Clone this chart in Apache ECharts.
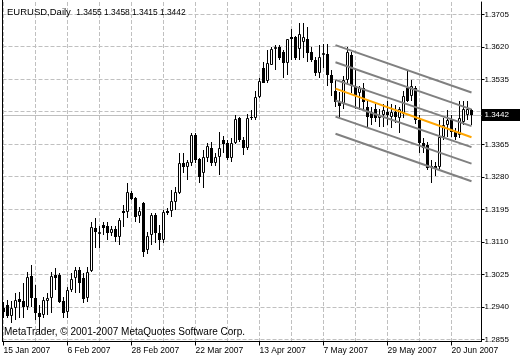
<!DOCTYPE html>
<html><head><meta charset="utf-8">
<script src="https://cdn.jsdelivr.net/npm/echarts@6/dist/echarts.min.js"></script>
<style>html,body{margin:0;padding:0;background:#fff}#c{width:520px;height:360px}</style>
</head><body><div id="c"></div>
<script>
// ---- data ----
const opens = [1.2937,1.2945,1.2916,1.2937,1.2960,1.2955,1.2939,1.3020,1.2963,1.2924,
1.2918,1.2955,1.2963,1.3023,1.3023,1.2955,1.2926,1.2984,1.3015,1.3036,
1.3015,1.2963,1.3033,1.3146,1.3130,1.3154,1.3151,1.3133,1.3143,1.3122,
1.3190,1.3188,1.3237,1.3224,1.3177,1.3211,1.3088,1.3128,1.3180,1.3133,
1.3114,1.3190,1.3190,1.3214,1.3237,1.3316,1.3305,1.3316,1.3391,1.3326,
1.3290,1.3329,1.3357,1.3316,1.3331,1.3376,1.3368,1.3329,1.3368,1.3433,
1.3376,1.3355,1.3438,1.3433,1.3488,1.3564,1.3530,1.3574,1.3614,1.3619,
1.3606,1.3577,1.3645,1.3645,1.3616,1.3634,1.3642,1.3608,1.3585,1.3551,
1.3598,1.3601,1.3546,1.3506,1.3475,1.3470,1.3533,1.3598,1.3519,1.3499,
1.3512,1.3462,1.3449,1.3459,1.3433,1.3441,1.3449,1.3436,1.3449,1.3433,
1.3446,1.3512,1.3491,1.3512,1.3428,1.3368,1.3363,1.3308,1.3310,1.3305,
1.3384,1.3415,1.3428,1.3397,1.3389,1.3423,1.3441,1.3455];
const closes = [1.2926,1.2916,1.2937,1.2958,1.2952,1.2939,1.3018,1.2963,1.2924,1.2913,
1.2958,1.2963,1.3020,1.3015,1.2952,1.2924,1.2984,1.3013,1.3036,1.3002,
1.2960,1.3031,1.3148,1.3135,1.3135,1.3146,1.3133,1.3143,1.3122,1.3167,
1.3185,1.3240,1.3222,1.3175,1.3190,1.3083,1.3125,1.3180,1.3133,1.3114,
1.3188,1.3185,1.3216,1.3240,1.3316,1.3305,1.3318,1.3389,1.3324,1.3279,
1.3331,1.3360,1.3316,1.3331,1.3355,1.3365,1.3329,1.3368,1.3431,1.3376,
1.3357,1.3433,1.3433,1.3488,1.3530,1.3527,1.3577,1.3614,1.3619,1.3590,
1.3577,1.3640,1.3640,1.3590,1.3653,1.3645,1.3603,1.3585,1.3551,1.3593,
1.3603,1.3546,1.3525,1.3475,1.3465,1.3533,1.3606,1.3519,1.3493,1.3512,
1.3475,1.3436,1.3433,1.3433,1.3441,1.3454,1.3441,1.3449,1.3436,1.3459,
1.3493,1.3480,1.3517,1.3428,1.3368,1.3357,1.3303,1.3303,1.3303,1.3384,
1.3415,1.3428,1.3397,1.3384,1.3433,1.3459,1.3459,1.3442];
const highs = [1.2952,1.2958,1.2955,1.2976,1.2979,1.3002,1.3031,1.3049,1.2997,1.2945,
1.2966,1.2976,1.3031,1.3041,1.3028,1.2966,1.2992,1.3028,1.3044,1.3044,
1.3028,1.3044,1.3162,1.3172,1.3151,1.3162,1.3162,1.3151,1.3151,1.3172,
1.3206,1.3263,1.3243,1.3227,1.3201,1.3214,1.3135,1.3185,1.3185,1.3154,
1.3193,1.3198,1.3245,1.3253,1.3342,1.3342,1.3324,1.3394,1.3394,1.3329,
1.3350,1.3368,1.3371,1.3342,1.3397,1.3386,1.3376,1.3381,1.3441,1.3438,
1.3384,1.3446,1.3454,1.3506,1.3540,1.3580,1.3611,1.3619,1.3624,1.3624,
1.3611,1.3642,1.3668,1.3650,1.3682,1.3682,1.3671,1.3619,1.3595,1.3624,
1.3629,1.3629,1.3559,1.3533,1.3501,1.3543,1.3619,1.3608,1.3564,1.3519,
1.3525,1.3480,1.3462,1.3472,1.3459,1.3472,1.3480,1.3472,1.3467,1.3462,
1.3506,1.3559,1.3533,1.3517,1.3441,1.3381,1.3371,1.3324,1.3318,1.3428,
1.3433,1.3454,1.3441,1.3407,1.3480,1.3480,1.3480,1.3458];
const lows = [1.2911,1.2911,1.2898,1.2905,1.2911,1.2911,1.2932,1.2939,1.2905,1.2871,
1.2911,1.2918,1.2924,1.2984,1.2950,1.2911,1.2911,1.2979,1.2976,1.2976,
1.2950,1.2952,1.3031,1.3094,1.3094,1.3128,1.3114,1.3125,1.3109,1.3101,
1.3148,1.3172,1.3219,1.3162,1.3159,1.3070,1.3078,1.3101,1.3107,1.3088,
1.3107,1.3180,1.3175,1.3193,1.3235,1.3290,1.3271,1.3310,1.3316,1.3263,
1.3250,1.3318,1.3310,1.3310,1.3284,1.3342,1.3324,1.3318,1.3365,1.3371,
1.3337,1.3350,1.3428,1.3428,1.3486,1.3525,1.3527,1.3572,1.3559,1.3585,
1.3540,1.3546,1.3585,1.3585,1.3585,1.3590,1.3580,1.3580,1.3543,1.3538,
1.3564,1.3519,1.3493,1.3462,1.3433,1.3459,1.3522,1.3499,1.3459,1.3454,
1.3454,1.3410,1.3415,1.3423,1.3410,1.3410,1.3415,1.3407,1.3420,1.3394,
1.3433,1.3475,1.3480,1.3418,1.3344,1.3342,1.3297,1.3263,1.3282,1.3297,
1.3376,1.3384,1.3384,1.3376,1.3381,1.3415,1.3428,1.3415];

const dateLabels = ['15 Jan 2007','6 Feb 2007','28 Feb 2007','22 Mar 2007','13 Apr 2007','7 May 2007','29 May 2007','20 Jun 2007'];
const priceTicks = [1.2855,1.2940,1.3025,1.3110,1.3195,1.3280,1.3365,1.3450,1.3535,1.3620,1.3705];
const priceLabels = [1.2855,1.2940,1.3025,1.3110,1.3195,1.3280,1.3365,1.3535,1.3620,1.3705];
const gridBars = [0,8,16,24,32,40,48,56,64,72,80,88,96,104,112];

const channelBars = [83, 117];
const channelGray = [[1.3625,1.3501],[1.3580,1.3457],[1.3534,1.3413],[1.3480,1.3358],[1.3438,1.3315],[1.3393,1.3269]];
const channelMid = [1.3511,1.3384];
const lastPrice = 1.3442;

const symbolName = 'EURUSD,Daily';
const lastOHLC = ['1.3455','1.3458','1.3415','1.3442'];
const footerText = 'MetaTrader, \u00A9 2001-2007 MetaQuotes Software Corp.';
const slotCount = 120;

// ---- build ----
const cats = [];
for (let i = 0; i < slotCount; i++) cats.push(String(i));
const candleData = opens.map((o, i) => [i, o, closes[i], lows[i], highs[i]]);
const GRID_COLOR = '#c0c0c0';
const DASH = [4, 2];

function renderCandle(params, api) {
  const i = api.value(0);
  const o = api.value(1), c = api.value(2), lo = api.value(3), hi = api.value(4);
  const pO = api.coord([i, o]), pC = api.coord([i, c]);
  const pL = api.coord([i, lo]), pH = api.coord([i, hi]);
  const col = Math.floor(pO[0]);
  const xc = col + 0.5;
  let top = Math.round(Math.min(pO[1], pC[1]));
  let bot = Math.round(Math.max(pO[1], pC[1]));
  const yH = Math.round(pH[1]), yL = Math.round(pL[1]);
  const children = [{type: 'line', shape: {x1: xc, y1: yH, x2: xc, y2: yL}, style: {stroke: '#000', lineWidth: 1}}];
  if (c >= o) {
    if (bot - top < 2) bot = top + 2;
    children.push({type: 'rect', shape: {x: col - 0.5, y: top + 0.5, width: 2, height: bot - top - 1}, style: {fill: '#fff', stroke: '#000', lineWidth: 1}});
  } else {
    if (bot - top < 1) bot = top + 1;
    children.push({type: 'rect', shape: {x: col - 1, y: top, width: 3, height: bot - top}, style: {fill: '#000'}});
  }
  return {type: 'group', children};
}

function renderHGrid(params, api) {
  const cs = params.coordSys;
  const y = Math.floor(api.coord([0, api.value(1)])[1]) + 0.5;
  return {type: 'line', shape: {x1: cs.x - 1, y1: y, x2: cs.x + cs.width + 2, y2: y},
    style: {stroke: GRID_COLOR, lineWidth: 1, lineDash: DASH}};
}
function renderVGrid(params, api) {
  const cs = params.coordSys;
  const x = Math.floor(api.coord([api.value(0), 1.3])[0]) + 0.5;
  return {type: 'line', shape: {x1: x, y1: cs.y, x2: x, y2: cs.y + cs.height},
    style: {stroke: GRID_COLOR, lineWidth: 1, lineDash: DASH}};
}
function renderPriceLine(params, api) {
  const cs = params.coordSys;
  const y = Math.floor(api.coord([0, api.value(1)])[1]) + 0.5;
  return {type: 'line', shape: {x1: cs.x - 1, y1: y, x2: cs.x + cs.width + 2, y2: y},
    style: {stroke: GRID_COLOR, lineWidth: 1}};
}

const SANS = "'Liberation Sans', Arial, sans-serif";

const series = [
  {type: 'custom', renderItem: renderHGrid, data: priceTicks.map(v => [0, v]), encode: {x: 0, y: 1}, silent: true, z: 1},
  {type: 'custom', renderItem: renderVGrid, data: gridBars.map(b => [b, 1.3]), encode: {x: 0, y: 1}, silent: true, z: 1},
  {type: 'custom', renderItem: renderPriceLine, data: [[0, lastPrice]], encode: {x: 0, y: 1}, silent: true, z: 2},
  {type: 'custom', renderItem: renderCandle, data: candleData, encode: {x: 0, y: [1, 2, 3, 4]}, silent: true, z: 3}
];
channelGray.forEach((v) => series.push({
  type: 'line', data: [[channelBars[0], v[0]], [channelBars[1], v[1]]],
  symbol: 'none', silent: true, z: 5, lineStyle: {color: '#808080', width: 2}
}));
series.push({
  type: 'line', data: [[channelBars[0], channelMid[0]], [channelBars[1], channelMid[1]]],
  symbol: 'none', silent: true, z: 6, lineStyle: {color: '#FFA500', width: 2}
});

const chart = echarts.init(document.getElementById('c'), null, {renderer: 'canvas'});
chart.setOption({
  animation: false,
  backgroundColor: '#fff',
  title: [
    {text: '{a|' + symbolName + '  }{b|' + lastOHLC.join(' ') + '}', left: 7, top: 7.5, padding: 0,
     textStyle: {fontSize: 9.5, fontWeight: 'normal', color: '#000', fontFamily: SANS,
       rich: {a: {fontSize: 9.5, fontFamily: SANS, color: '#000'}, b: {fontSize: 8.4, fontFamily: SANS, color: '#000'}}}},
    {text: footerText, left: 4, top: 327.7, padding: 0,
     textStyle: {fontSize: 10, fontWeight: 'normal', color: '#000', fontFamily: SANS}}
  ],
  grid: {left: 3.5, right: 40.5, top: 2, bottom: 18.5, containLabel: false},
  xAxis: {
    type: 'category', data: cats, boundaryGap: false,
    axisLine: {show: true, lineStyle: {color: '#000', width: 1}},
    axisTick: {show: true, interval: (idx) => idx % 16 === 0, length: 4, lineStyle: {color: '#000'}},
    axisLabel: {show: true, interval: (idx) => idx % 16 === 0,
      formatter: (v, idx) => dateLabels[Math.round(idx / 16)] || '',
      align: 'left', margin: 5, fontSize: 8.5, color: '#000', fontFamily: SANS},
    splitLine: {show: false}
  },
  yAxis: {
    type: 'value', position: 'right', offset: 2,
    min: 1.284977, max: 1.373769, scale: true,
    axisLine: {show: true, lineStyle: {color: '#000', width: 1}},
    axisTick: {show: true, customValues: priceTicks, length: 3, lineStyle: {color: '#000'}},
    axisLabel: {show: true, customValues: priceLabels, formatter: (v) => v.toFixed(4),
      margin: 3, fontSize: 8, color: '#000', fontFamily: SANS},
    splitLine: {show: false}
  },
  series: series
});

// current-price tag on the right axis, placed via the axis scale
const py = Math.round(Math.floor(chart.convertToPixel({yAxisIndex: 0}, lastPrice)) + 0.5);
chart.setOption({
  graphic: [
    {type: 'line', shape: {x1: 2.5, y1: 0, x2: 2.5, y2: 342}, style: {stroke: '#000', lineWidth: 1}, silent: true, z: 10},
    {type: 'line', shape: {x1: 2, y1: 341.5, x2: 482, y2: 341.5}, style: {stroke: '#000', lineWidth: 1}, silent: true, z: 10},
    {type: 'rect', shape: {x: 482, y: py - 7, width: 38, height: 12}, style: {fill: '#000'}, silent: true, z: 20},
    {type: 'text', x: 484.5, y: py - 1, silent: true, z: 21,
     style: {text: lastPrice.toFixed(4), fill: '#fff', fontSize: 8, fontFamily: SANS, verticalAlign: 'middle', align: 'left'}}
  ]
});
</script>
</body></html>
